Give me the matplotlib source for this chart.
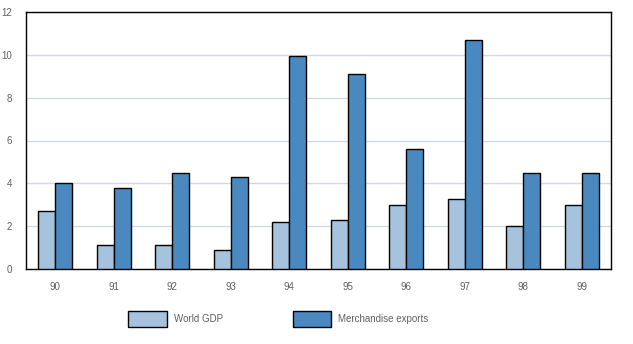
import numpy as np
import matplotlib
matplotlib.use("Agg")
import matplotlib.pyplot as plt

plt.rcParams['font.family'] = ['Liberation Sans Narrow', 'Liberation Sans', 'DejaVu Sans']

years = ['90', '91', '92', '93', '94', '95', '96', '97', '98', '99']
world_gdp = [2.7, 1.1, 1.1, 0.9, 2.2, 2.3, 3.0, 3.25, 2.0, 3.0]
merch_exports = [4.0, 3.8, 4.5, 4.3, 9.95, 9.1, 5.6, 10.7, 4.5, 4.5]

light = '#a6c2dd'
dark = '#4a89c0'
txt = '#606060'

fig = plt.figure(figsize=(6.33, 3.44), dpi=100)
ax = fig.add_axes([26/633, 75/344, 585/633, 257/344])

x = np.arange(len(years))
w = 0.29
ax.bar(x - w/2, world_gdp, w, color=light, edgecolor='black', linewidth=1.0,
       label='World GDP', zorder=3)
ax.bar(x + w/2, merch_exports, w, color=dark, edgecolor='black', linewidth=1.0,
       label='Merchandise exports', zorder=3)

ax.set_xlim(-0.5, len(years) - 0.5)
ax.set_ylim(0, 12)
ax.set_yticks(range(0, 13, 2))
ax.set_xticks(x)
ax.set_xticklabels(years)
ax.grid(axis='y', color='#cfdbe6', linewidth=1.0, zorder=0)
ax.tick_params(length=0, labelsize=7, colors=txt)
ax.tick_params(axis='y', pad=10)
ax.tick_params(axis='x', pad=9)
for s in ax.spines.values():
    s.set_linewidth(1.0)
    s.set_color('black')

fig.legend(loc='center left', bbox_to_anchor=(124/633, 25/344), ncol=2,
           frameon=False, fontsize=7, labelcolor=txt,
           handlelength=4.0, handleheight=2.1, columnspacing=7.2,
           handletextpad=0.7, borderaxespad=0)

fig.savefig('out.png', dpi=100)
